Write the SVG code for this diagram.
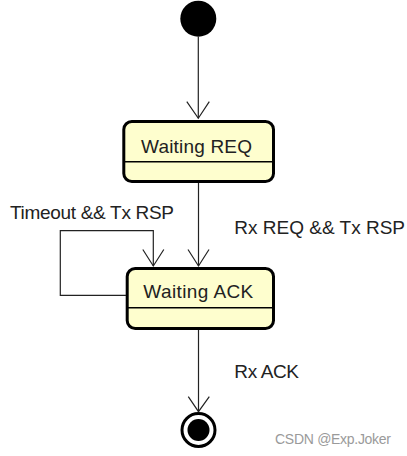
<svg xmlns="http://www.w3.org/2000/svg" width="407" height="456" viewBox="0 0 407 456">
<style>
.state{fill:#FEFECE;stroke:#000;stroke-width:3}
.div{stroke:#000;stroke-width:1.5}
.lbl{font-family:"Liberation Sans",Arial,sans-serif;font-size:19px;fill:#222}
.edge{fill:none;stroke:#222;stroke-width:1.2}
.head{fill:none;stroke:#222;stroke-width:1.2}
.wm{font-family:"Liberation Sans",Arial,sans-serif;font-size:14px;fill:#9a9a9a}
</style>
<rect width="407" height="456" fill="#fff"/>
<g id="start">
<circle cx="198.3" cy="18.7" r="18" fill="#000"/>
</g>
<g id="waiting-req">
<rect class="state" x="123.8" y="121.5" width="149.7" height="60" rx="8"/>
<line class="div" x1="123.8" y1="161.7" x2="273.5" y2="161.7"/>
<text class="lbl" x="141" y="153" textLength="111" lengthAdjust="spacing">Waiting REQ</text>
</g>
<g id="waiting-ack">
<rect class="state" x="127.2" y="268.5" width="146.3" height="60" rx="8"/>
<line class="div" x1="127.2" y1="307.7" x2="273.5" y2="307.7"/>
<text class="lbl" x="143.3" y="298.3" textLength="110" lengthAdjust="spacing">Waiting ACK</text>
</g>
<g id="end">
<circle cx="198.5" cy="430" r="16.5" fill="#fff" stroke="#000" stroke-width="3"/>
<circle cx="198.5" cy="430" r="11" fill="#000"/>
</g>
<g id="connectors">
<path class="edge" d="M198.3 36.7 V118.3"/>
<path class="head" d="M186.8 101.7 L198.3 118.3 L209.3 101.7"/>
<path class="edge" d="M198.5 183 V266"/>
<path class="head" d="M188 249.5 L198.5 266 L209 249.5"/>
<path class="edge" d="M126 295.3 H60.3 V230.7 H153.3 V266"/>
<path class="head" d="M142.8 249.5 L153.3 266 L163.8 249.5"/>
<path class="edge" d="M198.5 330 V411.7"/>
<path class="head" d="M188.3 396.7 L198.5 411.7 L209.3 396.7"/>
<text class="lbl" x="10" y="219" textLength="164" lengthAdjust="spacing">Timeout &amp;&amp; Tx RSP</text>
<text class="lbl" x="234.3" y="234" textLength="170.7" lengthAdjust="spacing">Rx REQ &amp;&amp; Tx RSP</text>
<text class="lbl" x="234.3" y="378.3" textLength="64.7" lengthAdjust="spacing">Rx ACK</text>
</g>
<text class="wm" x="275" y="444" textLength="116" lengthAdjust="spacing">CSDN @Exp.Joker</text>
</svg>
